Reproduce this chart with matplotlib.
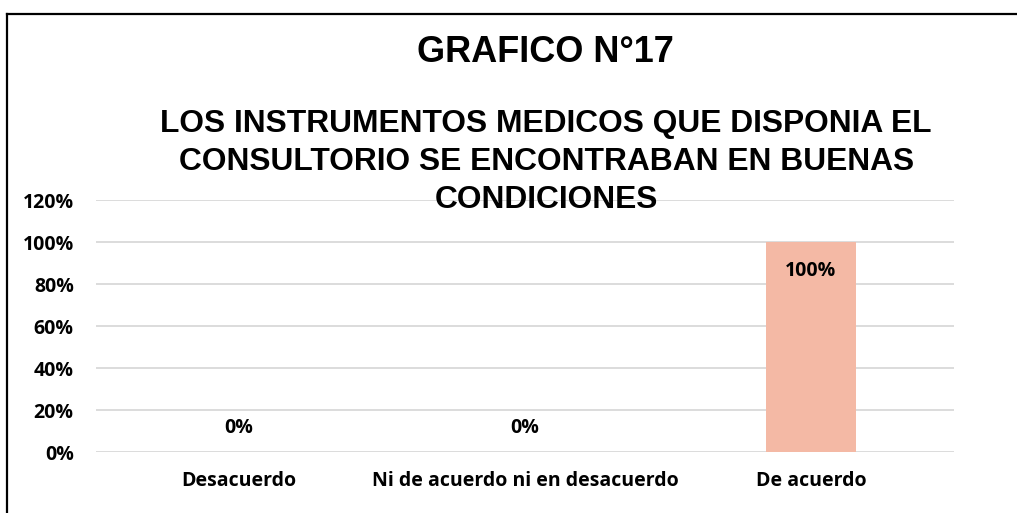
import matplotlib.pyplot as plt
from matplotlib.lines import Line2D
from matplotlib.ticker import PercentFormatter

# Data
categorias = ['Desacuerdo', 'Ni de acuerdo ni en desacuerdo', 'De acuerdo']
porcentajes = [0, 0, 100]
etiquetas = ['0%', '0%', '100%']

titulo = 'GRAFICO N°17'
subtitulo = 'LOS INSTRUMENTOS MEDICOS QUE DISPONIA EL\nCONSULTORIO SE ENCONTRABAN EN BUENAS\nCONDICIONES'

fig = plt.figure(figsize=(10.17, 5.13), dpi=100)
ax = fig.add_axes([96/1017, 1-452/513, (954-96)/1017, (452-200)/513])

tick_font = dict(family='Open Sans', weight='bold', size=14)

bars = ax.bar(range(len(categorias)), porcentajes, width=0.315, color='#F4B9A5', zorder=2)

ax.set_xlim(-0.5, 2.5)
ax.set_ylim(0, 120)
ax.set_yticks(range(0, 121, 20))
ax.yaxis.set_major_formatter(PercentFormatter(decimals=0))
ax.set_xticks(range(len(categorias)))
ax.set_xticklabels(categorias)
for lbl in ax.get_xticklabels() + ax.get_yticklabels():
    lbl.set_fontfamily('Open Sans')
    lbl.set_fontweight('bold')
    lbl.set_fontsize(14)
ax.tick_params(axis='both', length=0)
ax.tick_params(axis='y', pad=16)
ax.tick_params(axis='x', pad=14)
ax.grid(axis='y', color='#D9D9D9', linewidth=1.3, zorder=0)
for s in ax.spines.values():
    s.set_visible(False)

# data labels
for i, (v, t) in enumerate(zip(porcentajes, etiquetas)):
    if v > 0:
        ax.annotate(t, (i, v), xytext=(0, -21), textcoords='offset points',
                    ha='center', va='center', **tick_font)
    else:
        ax.annotate(t, (i, v), xytext=(0, 17), textcoords='offset points',
                    ha='center', va='center', **tick_font)

# titles
fig.text(0.536, 1-62/513, titulo, ha='center', va='baseline',
         family='Liberation Sans', weight='bold', fontsize=26)
fig.text(0.537, 1-109/513, subtitulo, ha='center', va='top', multialignment='center',
         family='Liberation Sans', weight='bold', fontsize=22.9, linespacing=1.34)

# chart border
fig.add_artist(Line2D([7/1017, 7/1017], [0, 1-14/513], transform=fig.transFigure, color='black', lw=1.6))
fig.add_artist(Line2D([7/1017, 1], [1-14/513, 1-14/513], transform=fig.transFigure, color='black', lw=1.6))

fig.savefig('out.png', dpi=100)
